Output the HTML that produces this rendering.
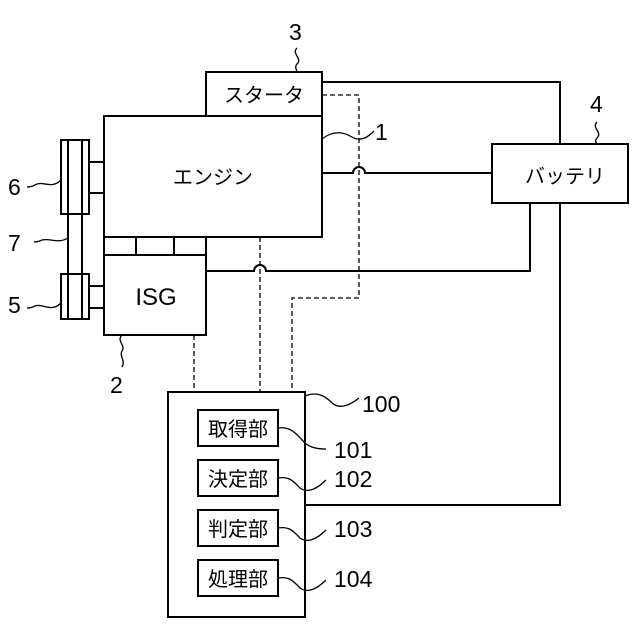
<!DOCTYPE html>
<html><head><style>body{margin:0;background:#fff}svg{display:block}</style></head><body>
<svg width="640" height="640" viewBox="0 0 640 640" xmlns="http://www.w3.org/2000/svg" font-family="'Liberation Sans','Noto Sans CJK JP',sans-serif">
<g fill="none" stroke="#000" stroke-width="2">
<rect x="206" y="72" width="116" height="44"/>
<rect x="104" y="116" width="218" height="121"/>
<rect x="104" y="237" width="102" height="98"/>
<line x1="104" y1="255" x2="206" y2="255"/>
<line x1="136" y1="237" x2="136" y2="255"/>
<line x1="174" y1="237" x2="174" y2="255"/>
<rect x="61" y="140" width="28" height="74"/>
<rect x="61" y="274" width="28" height="45"/>
<line x1="68" y1="140" x2="68" y2="319"/>
<line x1="82" y1="140" x2="82" y2="319"/>
<line x1="89" y1="162" x2="104" y2="162"/>
<line x1="89" y1="193" x2="104" y2="193"/>
<line x1="89" y1="286" x2="104" y2="286"/>
<line x1="89" y1="308" x2="104" y2="308"/>
<rect x="492" y="144" width="136" height="59"/>
<rect x="168" y="392" width="137" height="225"/>
<rect x="198" y="410" width="80" height="36"/>
<rect x="198" y="460" width="80" height="36"/>
<rect x="198" y="510" width="80" height="36"/>
<rect x="198" y="560" width="80" height="36"/>
<polyline points="322,82 560,82 560,144"/>
<polyline points="560,203 560,505 305,505"/>
<path d="M322,173 H353 A6,6 0 0 1 365,173 H492"/>
<path d="M206,271 H254 A6,6 0 0 1 266,271 H530 V203"/>
<g stroke-width="1.3">
<path d="M297,48 c-6,6 6,10 0,16 c-3,3 0,6 0,8"/>
<path d="M597,122 c-6,6 6,10 0,16 c-3,3 0,6 0,6"/>
<path d="M322,139 c10,-8 20,-8 30,-2 c10,6 18,-2 22,-6"/>
<path d="M61,180 c-10,10 -18,0 -26,5 c-4,2 -6,2 -8,2"/>
<path d="M68,238 c-10,6 -18,0 -26,2 c-4,2 -6,2 -8,2"/>
<path d="M61,303 c-10,10 -18,0 -26,3 c-4,2 -6,2 -8,2"/>
<path d="M122,335 c-6,6 4,10 0,16 c-3,5 4,10 0,16"/>
<path d="M305,396 c10,-4 18,-2 26,6 c8,8 18,4 28,-4"/>
<path d="M278,428 c14,-2 20,8 26,14 c6,6 14,7 22,7"/>
<path d="M278,478 c12,-2 16,4 22,10 c8,6 18,0 26,-8"/>
<path d="M278,528 c12,-2 16,4 22,10 c8,6 18,0 26,-8"/>
<path d="M278,578 c12,-2 16,4 22,10 c8,6 18,0 26,-8"/>
</g>
<g stroke-width="1.3" stroke-dasharray="5,3">
<polyline points="322,95 359,95 359,298 292,298 292,392"/>
<line x1="260" y1="237" x2="260" y2="392"/>
<line x1="194" y1="335" x2="194" y2="392"/>
</g>
</g>
<g font-size="20" fill="#000" text-anchor="middle">
<text x="264" y="102">スタータ</text>
<text x="213" y="184">エンジン</text>
<text x="156" y="305" font-size="24">ISG</text>
<text x="565" y="183">バッテリ</text>
<text x="238" y="436">取得部</text>
<text x="238" y="486">決定部</text>
<text x="238" y="536">判定部</text>
<text x="238" y="586">処理部</text>
</g>
<g font-size="23" fill="#000">
<text x="289" y="40">3</text>
<text x="590" y="112">4</text>
<text x="375" y="140">1</text>
<text x="8" y="195">6</text>
<text x="8" y="251">7</text>
<text x="8" y="313">5</text>
<text x="110" y="393">2</text>
<text x="362" y="412">100</text>
<text x="334" y="458">101</text>
<text x="334" y="487">102</text>
<text x="334" y="537">103</text>
<text x="334" y="587">104</text>
</g>
</svg>
</body></html>
